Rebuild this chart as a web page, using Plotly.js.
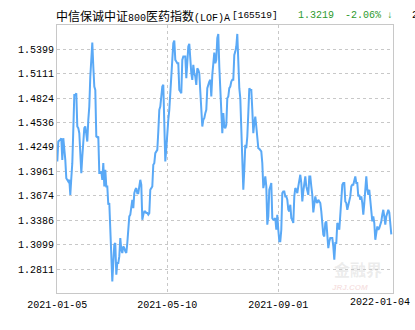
<!DOCTYPE html>
<html>
<head>
<meta charset="utf-8">
<script src="https://cdn.plot.ly/plotly-3.0.1.min.js"></script>
<style>
html,body{margin:0;padding:0;background:#fff;}
#chart{width:415px;height:330px;}
</style>
</head>
<body>
<div id="chart"></div>
<script>
// Net asset value per trading day (2021-01-05 .. 2022-01-04)
const navValues = [
1.4078,1.4313,1.4325,1.4333,1.4352,1.4097,1.4352,1.4254,1.4097,1.3881,
1.3862,1.3842,1.3862,1.3685,1.3881,1.4058,1.4450,1.4862,1.4862,1.4882,
1.4490,1.4470,1.4411,1.4078,1.3941,1.4137,1.4333,1.4470,1.4490,1.4411,
1.4313,1.4568,1.4725,1.5078,1.5352,1.5478,1.5196,1.4960,1.4921,1.4372,
1.4364,1.4372,1.3941,1.3941,1.3960,1.3862,1.4058,1.3784,1.3980,1.3784,
1.3784,1.3568,1.3588,1.3274,1.2960,
1.2666,1.2882,1.3098,1.3117,1.2745,1.2882,1.2882,1.2960,1.3176,1.3039,
1.3000,1.3078,1.3058,1.3019,1.3000,1.3117,1.3274,1.3431,1.3451,1.3588,
1.3627,1.3529,1.3705,1.3745,1.3764,1.3705,1.3705,1.3784,1.3862,1.3803,
1.3392,1.3451,1.3490,1.3490,1.3470,1.3470,1.3451,1.3470,1.3745,1.3764,
1.3784,1.4039,1.4058,1.4176,1.4207,1.4215,1.4431,1.4686,1.4725,1.4843,
1.4960,1.4980,1.4607,1.4078,1.4235,1.4450,
1.4568,1.4686,1.4882,1.5117,1.5352,1.5470,1.5502,1.5274,1.5255,1.5235,
1.5235,1.4921,1.4902,1.4882,1.5274,1.5313,1.5313,1.5313,1.5058,1.5352,
1.5431,1.5462,1.5235,1.5117,1.5039,1.5215,1.5117,1.5078,1.4980,1.5176,
1.5156,1.5117,1.4902,1.4627,1.4490,1.4568,1.4588,1.4647,1.4686,1.4941,
1.5000,1.5019,1.5039,1.4843,1.5098,1.5255,1.5360,1.5235,1.5274,1.5529,
1.5580,1.5196,1.4921,1.4804,1.4411,1.4647,
1.4490,1.4470,1.4509,1.4823,1.4843,1.4941,1.4960,1.5019,1.5039,1.5039,
1.5333,1.5372,1.5431,1.5580,1.5078,1.4941,1.4823,1.4450,1.4058,1.3745,
1.3980,1.4274,1.4235,1.4372,1.4647,1.4941,1.4921,1.4921,1.4686,1.4411,
1.4529,1.4607,1.4490,1.4372,1.4235,1.4227,1.4215,1.4196,1.4058,1.3764,
1.3823,1.3902,1.3784,1.3333,1.3431,1.3745,1.3784,1.3823,1.3411,1.3392,
1.3392,1.3411,1.3274,1.3451,1.3274,1.3137,
1.3137,1.3274,1.3705,1.3725,1.3725,1.3666,1.3666,1.3627,1.3509,1.3490,
1.3568,1.3411,1.3392,1.3353,1.3666,1.3764,1.3745,1.3705,1.3784,1.3862,
1.3921,1.3823,1.3607,1.3725,1.3823,1.3902,1.3784,1.3745,1.3685,1.3902,
1.3902,1.3784,1.3685,1.3478,1.3627,1.3666,1.3607,1.3588,1.3627,1.3607,
1.3588,1.3490,1.3353,1.3215,1.3196,1.3353,1.3372,1.3196,1.3058,1.3137,
1.3176,1.3176,1.3176,1.3078,1.2921,1.3117,
1.3117,1.3353,1.3333,1.3274,1.3509,1.3666,1.3803,1.3823,1.3823,1.3607,
1.3588,1.3509,1.3568,1.3647,1.3666,1.3784,1.3803,1.3803,1.3862,1.3902,
1.3823,1.3823,1.3666,1.3685,1.3627,1.3666,1.3588,1.3451,1.3588,1.3745,
1.3902,1.3745,1.3685,1.3745,1.3588,1.3431,1.3372,1.3431,1.3353,1.3156,
1.3215,1.3313,1.3274,1.3294,1.3333,1.3372,1.3451,1.3509,1.3431,1.3333,
1.3431,1.3490,1.3509,1.3478,1.3313,1.3219
];

const xTickLabels = ['2021-01-05','2021-05-10','2021-09-01','2022-01-04'];
const xTickIndex = [0, 110, 221, 335];
const yTickLabels = ['1.2811','1.3099','1.3386','1.3674','1.3961','1.4249','1.4536','1.4824','1.5111','1.5399'];

const fundName = '中信保诚中证800医药指数(LOF)A';
const fundCode = '[165519]';
const lastNav = '1.3219';
const lastChange = '-2.06% ↓';

// plot-area geometry in pixels (for placing header texts)
const PL = 57, PR = 393, PT = 25, PB = 293;
const pxX = p => (p - PL) / (PR - PL);
const pxY = p => (PB - p) / (PB - PT);

const yTickVals = yTickLabels.map(Number);
const monoFam = 'Liberation Mono, DejaVu Sans Mono, monospace';
const tickFont = {family: monoFam, size: 10, color: '#000'};
const green = '#2e9a2e';

// half-width (ASCII) runs of the name are set in the narrow monospace face, as in the reference
const nameMarkup = fundName.replace(/[\x20-\x7e]+/g,
  m => '<span style="font-family:Liberation Mono;font-size:10px">' + m + '</span>');

// the last x label is pushed inside the figure (as in the reference), so it is drawn as an annotation
const shownTickText = xTickLabels.map((t, i) => i === xTickLabels.length - 1 ? '' : t);

const trace = {
  y: navValues,
  type: 'scatter',
  mode: 'lines',
  line: {color: '#5aa9f6', width: 2},
  hoverinfo: 'skip'
};

const hdr = (text, px, font, anchor) => ({
  text: text, xref: 'paper', yref: 'paper', x: pxX(px), y: pxY(15),
  xanchor: anchor || 'left', yanchor: 'middle', showarrow: false, borderpad: 0, font: font
});

const layout = {
  width: 415, height: 330,
  margin: {l: PL, r: 415 - PR, t: PT, b: 330 - PB, pad: 0},
  paper_bgcolor: '#fff', plot_bgcolor: '#fff',
  showlegend: false,
  xaxis: {
    range: [-0.3, 335.7],
    tickmode: 'array', tickvals: xTickIndex, ticktext: shownTickText,
    showgrid: true, gridcolor: '#c8c8c8', griddash: '3px,3px', gridwidth: 1,
    zeroline: false, showline: true, mirror: true, linecolor: '#c8c8c8', linewidth: 1,
    ticks: '', tickfont: tickFont, ticklabelstandoff: 2, fixedrange: true
  },
  yaxis: {
    range: [1.2529, 1.5685],
    tickmode: 'array', tickvals: yTickVals, ticktext: yTickLabels,
    showgrid: true, gridcolor: '#c8c8c8', griddash: '3px,3px', gridwidth: 1,
    zeroline: false, showline: true, mirror: true, linecolor: '#c8c8c8', linewidth: 1,
    ticks: '', tickfont: tickFont, fixedrange: true
  },
  annotations: [
    hdr(nameMarkup, 55, {family: 'Noto Sans CJK SC', size: 12, color: '#000'}),
    hdr(fundCode, 279, {family: monoFam, size: 9.5, color: '#000'}, 'right'),
    hdr(lastNav, 297, {family: monoFam, size: 10, color: green}),
    hdr(lastChange, 344, {family: monoFam, size: 10, color: green}),
    hdr('2', 411, {family: monoFam, size: 10, color: '#000'}),
    {text: xTickLabels[xTickLabels.length - 1], xref: 'paper', yref: 'paper', x: pxX(411), y: pxY(302),
     xanchor: 'right', yanchor: 'middle', showarrow: false, borderpad: 0, font: tickFont},
    {text: '<b>金融界</b>', xref: 'paper', yref: 'paper', x: pxX(358), y: pxY(269), xanchor: 'center', yanchor: 'middle', showarrow: false, borderpad: 0,
     font: {family: 'Noto Sans CJK SC', size: 16, color: 'rgba(200,200,200,0.35)'}},
    {text: '<i><b>JRJ.COM</b></i>', xref: 'paper', yref: 'paper', x: pxX(350), y: pxY(287), xanchor: 'center', yanchor: 'middle', showarrow: false, borderpad: 0,
     font: {family: 'Liberation Sans', size: 8, color: 'rgba(230,170,170,0.35)'}}
  ]
};

Plotly.newPlot('chart', [trace], layout, {staticPlot: true, displayModeBar: false});
</script>
</body>
</html>
